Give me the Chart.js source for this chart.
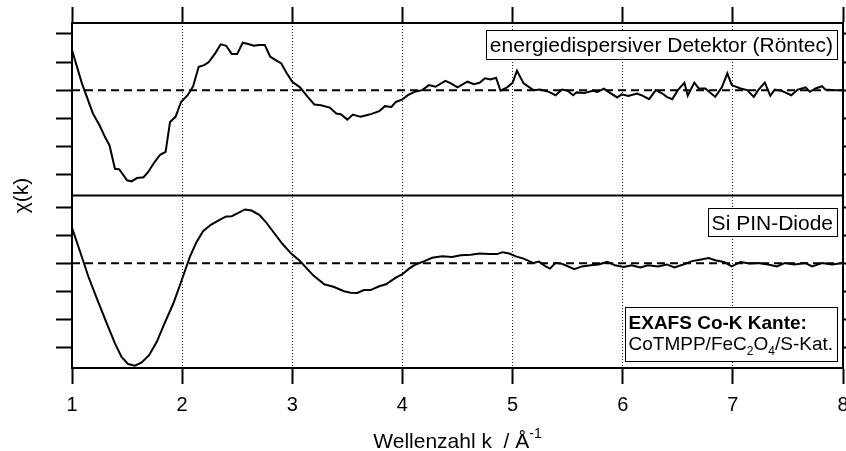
<!DOCTYPE html>
<html>
<head>
<meta charset="utf-8">
<script src="https://cdn.jsdelivr.net/npm/chart.js@4.4.1/dist/chart.umd.min.js"></script>
<style>
  html, body { margin: 0; padding: 0; background: #fff; overflow: hidden; }
  #wrap { width: 846px; height: 451px; overflow: hidden; }
</style>
</head>
<body>
<div id="wrap"><canvas id="c" width="859" height="451"></canvas></div>
<script>
// k in 1/Å, chi(k)
const kTop = [1.00,1.09,1.19,1.25,1.30,1.34,1.39,1.43,1.50,1.54,1.59,1.65,1.69,1.75,1.80,1.85,1.89,1.94,1.99,
  2.05,2.10,2.15,2.20,2.24,2.30,2.35,2.40,2.45,2.50,2.55,2.60,2.65,2.70,2.75,2.80,2.85,2.90,2.95,3.00,
  3.07,3.14,3.20,3.26,3.34,3.40,3.44,3.50,3.55,3.62,3.70,3.79,3.84,3.90,3.94,4.00,4.05,4.11,4.18,4.24,
  4.30,4.39,4.44,4.50,4.59,4.65,4.70,4.75,4.80,4.85,4.89,4.95,5.00,5.04,5.10,5.19,5.25,5.33,5.39,5.45,
  5.50,5.55,5.58,5.65,5.73,5.77,5.83,5.87,5.95,5.99,6.05,6.13,6.17,6.24,6.30,6.36,6.40,6.45,6.50,6.56,
  6.59,6.65,6.69,6.75,6.84,6.90,6.95,6.99,7.07,7.13,7.19,7.23,7.29,7.34,7.38,7.44,7.53,7.59,7.66,7.70,
  7.75,7.81,7.84,7.93,8.00];
const chiTop = [1.43,0.24,-0.83,-1.25,-1.67,-1.96,-2.80,-2.82,-3.21,-3.25,-3.13,-3.10,-2.92,-2.56,-2.30,-2.20,-1.13,-0.95,-0.42,
  -0.18,0.14,0.83,0.89,0.99,1.31,1.63,1.58,1.29,1.29,1.69,1.64,1.58,1.61,1.61,1.19,1.07,0.95,0.60,0.30,
  0.10,-0.24,-0.51,-0.54,-0.62,-0.83,-0.86,-1.05,-0.87,-0.95,-0.87,-0.75,-0.57,-0.60,-0.42,-0.33,-0.18,-0.06,0.00,0.18,
  0.12,0.33,0.24,0.10,0.30,0.21,0.26,0.42,0.38,0.44,-0.02,0.10,0.26,0.69,0.24,0.00,0.02,-0.06,-0.18,0.02,
  -0.02,-0.18,-0.08,-0.10,-0.02,-0.06,0.05,-0.06,-0.26,-0.15,-0.21,-0.12,-0.18,-0.32,0.00,-0.12,-0.24,-0.32,0.00,0.26,
  -0.20,0.27,0.06,0.06,-0.24,0.10,0.60,0.18,0.06,0.00,-0.24,0.00,0.27,-0.20,0.02,-0.02,-0.18,0.02,0.10,-0.06,
  0.06,0.14,0.02,0.00,0.00];

const kBot = [1.00,1.07,1.15,1.22,1.31,1.39,1.45,1.51,1.57,1.63,1.70,1.77,1.84,1.92,1.99,2.07,2.13,2.19,2.26,2.34,
  2.40,2.45,2.51,2.57,2.63,2.70,2.76,2.84,2.91,2.99,3.07,3.19,3.29,3.38,3.47,3.53,3.59,3.65,3.71,3.79,
  3.85,3.94,4.00,4.06,4.12,4.20,4.27,4.36,4.45,4.53,4.62,4.70,4.79,4.86,4.91,4.97,5.03,5.10,5.19,5.24,
  5.30,5.34,5.39,5.45,5.48,5.56,5.63,5.71,5.78,5.86,5.93,6.01,6.08,6.16,6.23,6.32,6.40,6.47,6.55,6.63,
  6.70,6.78,6.84,6.92,6.99,7.07,7.15,7.23,7.32,7.40,7.47,7.56,7.66,7.72,7.81,7.90,8.00];
const chiBot = [1.27,0.46,-0.49,-1.20,-2.10,-2.87,-3.35,-3.61,-3.67,-3.56,-3.29,-2.81,-2.15,-1.44,-0.67,0.23,0.76,1.15,1.38,1.56,
  1.68,1.69,1.81,1.93,1.89,1.74,1.48,1.06,0.70,0.35,0.08,-0.43,-0.75,-0.85,-1.00,-1.05,-1.06,-0.96,-0.96,-0.82,
  -0.75,-0.51,-0.39,-0.19,-0.04,0.08,0.20,0.25,0.23,0.29,0.31,0.35,0.33,0.33,0.40,0.35,0.25,0.17,0.01,0.06,
  -0.11,-0.19,0.02,-0.02,-0.07,-0.21,-0.11,-0.07,-0.04,0.05,-0.07,-0.13,-0.07,-0.15,-0.07,-0.11,-0.04,-0.15,-0.04,0.08,
  0.13,0.19,0.11,0.05,-0.11,0.05,-0.01,0.01,-0.04,-0.11,0.01,-0.04,0.01,-0.11,0.01,-0.04,0.01];

const zeroLine = [{x: 1, y: 0}, {x: 8, y: 0}];
const kRange = [1, 8];
const topRange = [-3.75, 2.39];
const botRange = [-3.75, 2.43];

const FONT = '"Liberation Sans", Arial, Helvetica, sans-serif';
Chart.defaults.font.family = FONT;
Chart.defaults.color = '#000';

function pts(xs, ys) {
  return xs.map((x, i) => ({x: x, y: ys[i]}));
}

// panel y axis (left or right), no labels, outward ticks
function panelAxis(pos, range, stack, weight) {
  return {
    type: 'linear', position: pos, stack: stack, stackWeight: 1, weight: weight,
    min: range[0], max: range[1],
    ticks: {stepSize: 1, display: false, includeBounds: false},
    grid: {drawOnChartArea: false, tickLength: 16, tickWidth: 2, tickColor: '#000'},
    border: {color: '#000', width: 2}
  };
}

const overlay = {
  id: 'overlay',
  afterDraw(chart) {
    const ctx = chart.ctx;
    const a = chart.chartArea;
    const mid = chart.scales.yTop.bottom;
    ctx.save();
    // separator between both panels
    ctx.strokeStyle = '#000';
    ctx.lineWidth = 2;
    ctx.beginPath();
    ctx.moveTo(a.left, mid);
    ctx.lineTo(a.right, mid);
    ctx.stroke();

    ctx.fillStyle = '#000';
    ctx.textBaseline = 'alphabetic';
    ctx.lineWidth = 1;
    const f = (s, w) => (w || '') + ' ' + s + 'px ' + FONT;

    function frame(x1, y1, w, h) {
      ctx.fillStyle = '#fff';
      ctx.fillRect(x1, y1, w, h);
      ctx.strokeStyle = '#000';
      ctx.strokeRect(Math.round(x1) + 0.5, Math.round(y1) + 0.5, Math.round(w), Math.round(h));
      ctx.fillStyle = '#000';
    }

    // label top panel
    ctx.font = f(21);
    let t = 'energiedispersiver Detektor (Röntec)';
    let w = ctx.measureText(t).width + 8;
    let x1 = a.right - 6 - w;
    frame(x1, a.top + 7, w, 29);
    ctx.fillText(t, x1 + 4, a.top + 7 + 22);

    // label bottom panel
    t = 'Si PIN-Diode';
    w = ctx.measureText(t).width + 8;
    x1 = a.right - 6 - w;
    frame(x1, mid + 12, w, 28);
    ctx.fillText(t, x1 + 4, mid + 12 + 22);

    // sample box
    const parts = [['CoTMPP/FeC', 0], ['2', 1], ['O', 0], ['4', 1], ['/S-Kat.', 0]];
    let w2 = 0;
    parts.forEach(p => { ctx.font = p[1] ? f(12) : f(19); w2 += ctx.measureText(p[0]).width; });
    ctx.font = f(19, 'bold');
    const w1 = ctx.measureText('EXAFS Co-K Kante:').width;
    w = Math.max(w1, w2) + 8;
    x1 = a.right - 6 - w;
    const bTop = a.bottom - 7 - 54;
    frame(x1, bTop, w, 54);
    ctx.font = f(19, 'bold');
    ctx.fillText('EXAFS Co-K Kante:', x1 + 4, bTop + 22);
    let cx = x1 + 4;
    parts.forEach(p => {
      ctx.font = p[1] ? f(12) : f(19);
      ctx.fillText(p[0], cx, bTop + 43 + (p[1] ? 5 : 0));
      cx += ctx.measureText(p[0]).width;
    });

    // x axis title with superscript
    ctx.font = f(21);
    const main = 'Wellenzahl k  / Å';
    const mw = ctx.measureText(main).width;
    ctx.font = f(14);
    const sw = ctx.measureText('-1').width;
    const xc = (a.left + a.right) / 2;
    const sx = xc - (mw + sw) / 2;
    ctx.font = f(21);
    ctx.fillText(main, sx, 448);
    ctx.font = f(14);
    ctx.fillText('-1', sx + mw, 438);

    // y axis title
    ctx.translate(22, (a.top + a.bottom) / 2);
    ctx.rotate(-Math.PI / 2);
    ctx.font = f(21);
    ctx.textAlign = 'center';
    ctx.textBaseline = 'middle';
    ctx.fillText('χ(k)', 0, 0);
    ctx.restore();
  }
};

const lineStyle = {borderColor: '#000', borderWidth: 2, pointRadius: 0, tension: 0, fill: false};
const dashStyle = {borderColor: '#000', borderWidth: 2, pointRadius: 0, borderDash: [8, 5], fill: false};

new Chart(document.getElementById('c'), {
  type: 'line',
  data: {
    datasets: [
      Object.assign({label: 'energiedispersiver Detektor', data: pts(kTop, chiTop), yAxisID: 'yTop'}, lineStyle),
      Object.assign({label: 'null oben', data: zeroLine, yAxisID: 'yTop'}, dashStyle),
      Object.assign({label: 'Si PIN-Diode', data: pts(kBot, chiBot), yAxisID: 'yBot'}, lineStyle),
      Object.assign({label: 'null unten', data: zeroLine, yAxisID: 'yBot'}, dashStyle)
    ]
  },
  options: {
    responsive: false,
    animation: false,
    events: [],
    layout: {padding: {left: 56, top: 7, right: 0, bottom: 25}},
    plugins: {legend: {display: false}, tooltip: {enabled: false}},
    scales: {
      x: {
        type: 'linear', position: 'bottom', min: kRange[0], max: kRange[1],
        ticks: {stepSize: 1, color: '#000', font: {size: 20}, padding: 9, maxRotation: 0},
        grid: {
          color: c => (c.tick && (c.tick.value === kRange[0] || c.tick.value === kRange[1])) ? 'rgba(0,0,0,0)' : '#222',
          lineWidth: 1, tickLength: 16, tickWidth: 2, tickColor: '#000'
        },
        border: {color: '#000', width: 2, dash: [1, 2]}
      },
      xTop: {
        type: 'linear', position: 'top', min: kRange[0], max: kRange[1],
        ticks: {stepSize: 1, display: false},
        grid: {drawOnChartArea: false, tickLength: 16, tickWidth: 2, tickColor: '#000'},
        border: {color: '#000', width: 2}
      },
      yBot: panelAxis('left', botRange, 'L', 1),
      yTop: panelAxis('left', topRange, 'L', 2),
      yTopR: panelAxis('right', topRange, 'R', 1),
      yBotR: panelAxis('right', botRange, 'R', 2)
    }
  },
  plugins: [overlay]
});
</script>
</body>
</html>
